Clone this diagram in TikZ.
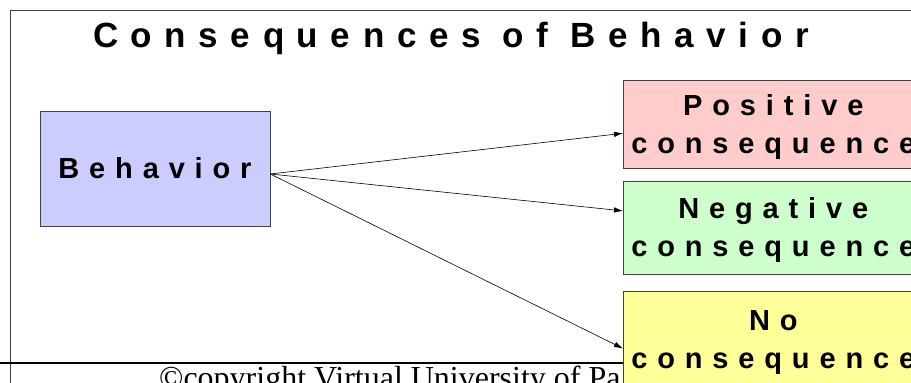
\documentclass[tikz,border=0pt]{standalone}
\usepackage{fontspec}
\setmainfont{Liberation Sans}
\newfontfamily\spacedfont[LetterSpace=34]{Liberation Sans}
\newfontfamily\widefont[LetterSpace=36]{Liberation Sans}
\newfontfamily\notefont{Liberation Serif}
\usetikzlibrary{positioning,arrows.meta}

\begin{document}
\begin{tikzpicture}[x=1pt,y=1pt]
      \definecolor{lavender}{HTML}{CCCCFF}
      \definecolor{rose}{HTML}{FFCCCC}
      \definecolor{mint}{HTML}{CCFFCC}
      \definecolor{lemon}{HTML}{FFFF99}
      \definecolor{edgegray}{HTML}{404040}

      \newcommand{\boxwidth}[0]{300pt}
      \newcommand{\titlefont}[0]{\fontsize{35}{40}\selectfont\widefont\bfseries}
      \newcommand{\blockfont}[0]{\fontsize{29}{38}\selectfont\spacedfont\bfseries}
      \newcommand{\outcomename}[2]{\rule{0pt}{26pt}#1\\#2}

      \tikzstyle{block}     = [rectangle, draw = edgegray, line width=0.6pt, inner sep=0pt, align=center, font=\blockfont]
      \tikzstyle{outcome}   = [block, minimum width=\boxwidth]
      \tikzstyle{connector} = [line width=0.6pt, -{Latex[length=9pt,width=5.5pt]}]

      \useasboundingbox (0,0) rectangle (911,383);
      \clip (0,0) rectangle (911,383);

      % slide frame and footer
      \draw [edgegray, line width=0.8pt] (10,-10) -- (10,373) -- (930,373);
      \draw [line width=1.5pt] (0,20) -- (623,20);
      \node [anchor=base west, inner sep=0pt, font=\fontsize{32}{36}\selectfont\notefont] (footer) at (159,-6) {©copyright Virtual University of Pa};

      \node [anchor=base, inner sep=0pt, font=\titlefont] (title) at (451,335) {Consequences of Behavior};

      \node [block, fill = lavender, minimum width=230pt, minimum height=115pt] (behavior) at (155,214.5) {Behavior};

      \node [outcome, fill = rose,  minimum height=88pt, anchor=north west] (positive) at (623,303) {\outcomename{Positive}{consequence}};
      \node [outcome, fill = mint,  minimum height=93pt, below = 12pt of positive] (negative) {\outcomename{Negative}{consequence}};
      \node [outcome, fill = lemon, minimum height=97pt, below = 17pt of negative] (none)     {\outcomename{No}{consequence}};

      \coordinate (fork) at ([yshift=-5.5pt]behavior.east);

      \draw [connector] (fork) -- ([yshift=-9pt]positive.west);
      \draw [connector] (fork) -- ([yshift=16.5pt]negative.west);
      \draw [connector] (fork) -- ([yshift=-8.5pt]none.west);
\end{tikzpicture}
\end{document}
